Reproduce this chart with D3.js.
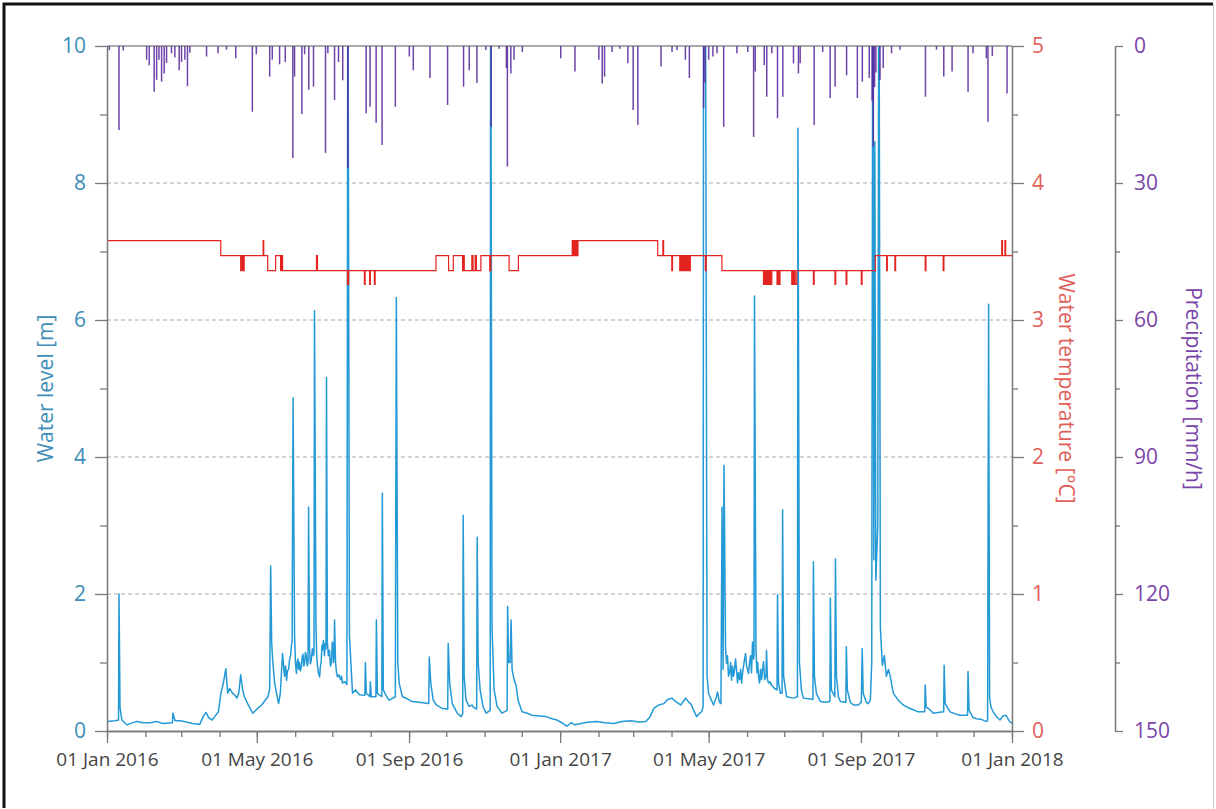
<!DOCTYPE html>
<html>
<head>
<meta charset="utf-8">
<script src="https://cdn.jsdelivr.net/npm/d3@7"></script>
<style>
  body { margin: 0; background: #fff; }
  svg { display: block; font-family: 'Open Sans', sans-serif; }
</style>
</head>
<body>
<svg id="chart" width="1216" height="809"></svg>
<script>
// all series are [day since 01 Jan 2016, value]

// water level [m] (values above 10 run off the top)
const levelSeries = [
  [0, 0.14], [6.4, 0.15], [9.3, 0.16], [9.7, 2.0], [10.5, 0.35], [12, 0.16], [16, 0.09], [24, 0.14],
  [29, 0.12], [35, 0.12], [40, 0.14], [45, 0.11], [52.8, 0.12], [53.2, 0.26], [55, 0.15], [59, 0.15],
  [64, 0.13], [69, 0.11], [75, 0.10], [78, 0.22], [80, 0.27], [82, 0.2], [85, 0.16], [87, 0.21],
  [90, 0.28], [92, 0.55], [94, 0.7], [96, 0.91], [97.5, 0.55], [99, 0.62], [101.5, 0.55], [103, 0.53],
  [105, 0.48], [106.4, 0.55], [108, 0.82], [109.6, 0.6], [111, 0.5], [113.6, 0.40], [117.7, 0.26],
  [120, 0.3], [121.7, 0.33], [125, 0.38], [127, 0.43], [130, 0.5], [131.4, 0.62], [132.2, 2.41],
  [133, 1.3], [133.8, 1.04], [135.4, 0.7], [137, 0.55], [138.6, 0.40], [140, 0.55], [141.8, 1.13],
  [143.4, 0.8], [144.2, 0.95], [145, 0.74], [145.8, 0.88], [146.7, 0.9], [147.5, 1.05], [148.3, 1.1],
  [149, 1.25], [149.5, 1.3], [150.3, 4.86], [151.5, 1.4], [152.2, 1.0], [153, 0.84], [153.6, 1.0],
  [154.2, 1.05], [154.8, 0.9], [155.5, 1.0], [156.2, 0.88], [157, 0.94], [157.7, 1.08], [158.3, 1.12],
  [159, 0.95], [159.6, 0.99], [160.3, 1.15], [161, 1.1], [161.7, 0.95], [162.4, 1.0], [162.8, 3.27],
  [163.6, 1.2], [164.3, 0.98], [165, 1.04], [165.9, 1.2], [166.8, 1.1], [167.2, 1.15], [167.6, 6.14],
  [168.8, 1.5], [169.4, 1.1], [170, 0.95], [170.8, 0.85], [171.7, 0.79], [172.4, 0.95], [173, 1.0],
  [173.6, 1.25], [174, 1.18], [174.8, 1.32], [175.7, 1.1], [176.3, 1.28], [176.9, 1.2], [177.3, 5.16],
  [178, 1.3], [178.8, 1.1], [179.7, 1.18], [180.5, 0.95], [181.3, 1.0], [182, 1.3], [182.5, 1.25],
  [183, 1.0], [183.4, 1.1], [183.8, 1.62], [184.6, 1.0], [185.4, 0.85], [186.2, 0.79], [187.4, 0.82],
  [188.6, 0.75], [189.4, 0.8], [190.2, 0.70], [192, 0.72], [193.8, 0.68], [194.6, 12], [195.8, 1.4],
  [198.3, 0.55], [200.7, 0.6], [203.9, 0.53], [208.3, 0.52], [208.7, 1.0], [209.5, 0.55], [212.3, 0.5],
  [212.7, 0.72], [213.5, 0.5], [217.2, 0.5], [217.6, 1.62], [218.4, 0.55], [222, 0.5], [222.4, 3.47],
  [223.2, 0.6], [226.5, 0.48], [228, 0.45], [232.9, 0.5], [233.7, 6.33], [234.9, 1.0], [236, 0.7],
  [238.6, 0.50], [242.6, 0.47], [246.6, 0.43], [252, 0.42], [259.9, 0.4], [260.3, 1.08], [261.5, 0.7],
  [263.5, 0.45], [266, 0.38], [270.8, 0.33], [275.2, 0.32], [275.6, 1.28], [276.8, 0.7], [278.9, 0.4],
  [282.9, 0.26], [286, 0.21], [287.3, 0.25], [287.7, 3.15], [288.5, 0.8], [290, 0.45], [292.5, 0.36],
  [295, 0.38], [295.8, 0.35], [298.6, 0.32], [299, 2.83], [299.8, 1.0], [301.4, 0.6], [303.8, 0.35],
  [306.3, 0.26], [309.5, 0.3], [309.9, 12], [311, 1.5], [312.7, 0.6], [315.1, 0.36], [319, 0.26],
  [323.2, 0.3], [323.6, 1.82], [324.4, 1.0], [325.6, 1.0], [326.4, 1.62], [327.2, 0.9], [328.8, 0.75],
  [330.4, 0.67], [332, 0.45], [335.3, 0.28], [339.3, 0.26], [343.3, 0.23], [349, 0.22], [354.6, 0.21],
  [359.4, 0.18], [363.5, 0.16], [367.5, 0.12], [371.5, 0.07], [374.8, 0.12], [378, 0.09], [382.8, 0.11],
  [389.3, 0.13], [395.7, 0.14], [402, 0.12], [409.4, 0.11], [415.9, 0.14], [423, 0.15], [429.6, 0.13],
  [435.2, 0.14], [438.4, 0.2], [441.7, 0.33], [445.7, 0.38], [449.8, 0.40], [453, 0.46], [456.2, 0.48],
  [459.4, 0.43], [463.4, 0.38], [467.4, 0.48], [469.9, 0.42], [471.5, 0.40], [473.9, 0.3], [476.3, 0.21],
  [478.7, 0.26], [480.3, 0.28], [481.5, 0.35], [481.9, 12], [483.3, 12], [484.7, 0.8],
  [485.9, 0.55], [487.5, 0.48], [489.9, 0.38], [492.3, 0.5], [493.1, 0.57], [494.7, 0.42], [495.9, 0.40],
  [496.8, 3.27], [497.6, 0.9], [498.4, 3.88], [499.6, 1.2], [500.4, 0.99], [501.2, 1.1], [502, 0.8],
  [502.9, 0.85], [503.7, 1.0], [504.5, 0.74], [505.3, 0.95], [506.1, 0.8], [506.9, 0.9], [507.7, 1.05],
  [508.5, 0.89], [509.3, 0.7], [510.1, 0.85], [511, 0.75], [511.8, 0.9], [512.6, 0.70], [513.4, 0.85],
  [514.2, 0.95], [515, 1.05], [515.8, 1.13], [516.6, 0.95], [517.4, 0.9], [518.2, 0.84], [519, 1.0],
  [519.8, 1.1], [520.6, 0.85], [521.4, 1.3], [522.2, 1.05], [522.6, 1.1], [523, 6.35], [524.2, 1.2],
  [525, 0.85], [525.6, 1.0], [526.3, 0.79], [527.1, 0.7], [527.9, 0.9], [528.7, 0.75], [529.5, 0.9],
  [530.3, 1.01], [531.2, 0.75], [532.3, 0.8], [532.7, 1.18], [533.5, 0.75], [534.4, 0.7], [535.6, 0.72],
  [536.7, 0.67], [539.2, 0.62], [541.2, 0.6], [541.6, 1.99], [542.4, 0.7], [544, 0.55], [545.3, 0.55],
  [545.7, 3.23], [546.5, 0.8], [548.9, 0.50], [554.5, 0.48], [557.7, 0.5], [558.1, 8.8], [559.3, 1.0],
  [560.9, 0.6], [562.5, 0.48], [566.6, 0.47], [570.2, 0.46], [570.6, 2.47], [571.4, 0.8], [573, 0.55],
  [576.2, 0.43], [580.3, 0.42], [583.9, 0.43], [584.3, 1.94], [585.1, 0.6], [587.9, 0.5], [588.4, 2.51],
  [589.2, 0.8], [590.8, 0.5], [592.4, 0.43], [596.8, 0.42], [597.2, 1.23], [598, 0.6], [600.4, 0.42],
  [602.9, 0.38], [606.9, 0.38], [609.3, 0.42], [610, 1.2], [610.8, 0.55], [613.3, 0.42], [614.9, 0.40],
  [616.6, 0.45], [617.7, 1.0], [618.6, 12], [619.4, 2.5], [620.2, 8.6], [621, 2.2], [622.6, 3.0],
  [623.5, 12], [624.7, 1.5], [626.3, 0.96], [627.9, 1.1], [629.5, 0.8], [631.2, 0.9], [632.8, 0.79],
  [633.6, 0.7], [635.2, 0.55], [639.1, 0.45], [643.2, 0.38], [647.2, 0.34], [651.2, 0.31], [655.2, 0.28],
  [660.5, 0.28], [660.9, 0.67], [661.7, 0.35], [664.1, 0.32], [667.3, 0.26], [671.3, 0.27], [675.8, 0.28],
  [676.2, 0.96], [677, 0.4], [681, 0.28], [685, 0.25], [689, 0.23], [695.1, 0.23], [695.5, 0.87],
  [696.3, 0.3], [699.5, 0.2], [701.9, 0.18], [706, 0.17], [710, 0.14], [711.3, 0.15], [712.1, 6.23],
  [712.9, 0.5], [714, 0.35], [715.7, 0.28], [718.9, 0.2], [721.3, 0.16], [723.7, 0.22], [726.2, 0.23],
  [728.6, 0.15], [731, 0.11]
];

// precipitation [mm/h]
const precipSeries = [
  [1.9, 0.9], [9.7, 18.4], [13.1, 1.0], [32, 3], [34.1, 4.2], [38.1, 10], [40.1, 7.4], [42, 3],
  [44.1, 7.8], [46.2, 6], [48.1, 3.7], [52.1, 1.6], [54.8, 2.5], [58.3, 5.3], [60.2, 3.5], [62.9, 3],
  [65, 8.8], [66.9, 1.5], [80.4, 2.3], [89.7, 1.6], [96.5, 0.8], [104, 2.7], [117.4, 14.4], [120.6, 1.8],
  [131.4, 6.7], [133.5, 3], [139.4, 4], [144, 3.5], [150.1, 24.5], [151.5, 6.7], [157.4, 14.9],
  [159.6, 1.8], [163, 9.6], [166.8, 8.9], [176.5, 23.4], [178.4, 1.6], [183.8, 11.8], [187, 3.5],
  [190.4, 7.5], [194.5, 26.7], [209.3, 14.7], [212.5, 13.3], [217.4, 16.8], [222.2, 21.7], [232.9, 13.3],
  [244.2, 2.3], [247.4, 5.3], [260.9, 7], [275.1, 12.9], [288, 8.9], [292.6, 5.3], [298.8, 8.1],
  [306, 0.9], [310.3, 17.7], [316.7, 0.6], [322.6, 4.8], [323.4, 26.4], [326.2, 6], [328.8, 3],
  [335.5, 1.3], [366.5, 2.7], [378, 5.6], [397.3, 3], [400, 8.2], [401.9, 6.7], [408, 1.3], [414.2, 0.6],
  [420.7, 3.8], [425, 14], [428.8, 17.3], [447.5, 4.5], [456.4, 1.3], [460.4, 0.9], [467.2, 3],
  [470.4, 7], [481.9, 13.6], [483, 8], [486, 3], [489.4, 2.3], [492.7, 1.6], [498.1, 17.7], [508.8, 1.6],
  [517.6, 1.3], [522.3, 19.9], [523.6, 5.6], [530.9, 4.2], [532.9, 11.1], [537, 1.6], [541.6, 15.8],
  [545.9, 11.1], [554.5, 3.8], [558.5, 6], [559.9, 3.8], [571.2, 17.3], [578.1, 1.3], [584.1, 11.4],
  [588.1, 8.9], [597.4, 6.4], [606.1, 11.4], [610.1, 7.8], [615.7, 7], [618, 12], [619, 22], [620, 9],
  [621.1, 5.8], [624.4, 7.4], [627, 4.8], [633.7, 1.6], [640.5, 0.8], [661.1, 11.1], [670, 0.8],
  [675.9, 6.7], [682.6, 5.6], [695.5, 10], [699.5, 1.6], [710.3, 2.7], [711.6, 16.6], [715.1, 2.2],
  [727, 10.4]
];

// water temperature [°C], level changes (step after)
const tempSteps = [
  [0, 3.58], [91.9, 3.47], [108, 3.36], [108.8, 3.47], [109.3, 3.36], [109.8, 3.47], [110.3, 3.36],
  [110.8, 3.47], [126.1, 3.58], [126.6, 3.47], [129.8, 3.36], [136.2, 3.47], [140.2, 3.36], [141, 3.47],
  [141.8, 3.36], [169.2, 3.47], [170, 3.36], [194.2, 3.26], [195.2, 3.36], [207.9, 3.26], [208.5, 3.36],
  [212.1, 3.26], [212.7, 3.36], [216, 3.26], [216.6, 3.36], [265.7, 3.47], [275.9, 3.36], [279.7, 3.47],
  [287.2, 3.36], [288, 3.47], [288.6, 3.36], [294.7, 3.47], [295.7, 3.36], [297.4, 3.47], [298.4, 3.36],
  [302, 3.47], [309.2, 3.36], [310, 3.47], [324.8, 3.36], [332.3, 3.47], [375.8, 3.58], [376.5, 3.47],
  [377.2, 3.58], [378, 3.47], [378.8, 3.58], [379.6, 3.47], [380.4, 3.58], [444.8, 3.47], [449, 3.58],
  [449.6, 3.47], [456.2, 3.36], [456.8, 3.47], [462.6, 3.36], [463.4, 3.47], [464.2, 3.36], [465, 3.47],
  [465.8, 3.36], [466.6, 3.47], [467.4, 3.36], [468.2, 3.47], [469, 3.36], [469.8, 3.47], [470.6, 3.36],
  [471.2, 3.47], [483.3, 3.36], [484, 3.47], [496.7, 3.36], [530.3, 3.26], [531, 3.36], [531.7, 3.26],
  [532.4, 3.36], [533.1, 3.26], [533.8, 3.36], [534.5, 3.26], [535.2, 3.36], [536, 3.26], [537, 3.36],
  [541.2, 3.26], [542, 3.36], [543, 3.26], [543.6, 3.36], [553.1, 3.26], [553.8, 3.36], [554.5, 3.26],
  [555.2, 3.36], [555.9, 3.26], [557.2, 3.36], [570.6, 3.26], [571.2, 3.36], [588, 3.26], [588.6, 3.36],
  [597, 3.26], [597.6, 3.36], [609.3, 3.26], [609.9, 3.36], [620.6, 3.47], [629.7, 3.36], [630.3, 3.47],
  [636.4, 3.36], [637, 3.47], [660.9, 3.36], [661.5, 3.47], [675.4, 3.36], [676, 3.47], [722.7, 3.58],
  [723.3, 3.47], [725.3, 3.58], [725.9, 3.47], [731, 3.47]
];

const levelTicks = [0, 2, 4, 6, 8, 10];
const tempTicks = [0, 1, 2, 3, 4, 5];
const precipTicks = [0, 30, 60, 90, 120, 150];

const colors = {
  level: '#2399d6',
  levelText: '#3d8db8',
  temp: '#e3231f',
  tempText: '#e0605a',
  precip: '#55249c',
  precipText: '#7a45a8',
  axis: '#7a7a7a',
  grid: '#a8a8a8'
};

const margin = { top: 46, right: 202, bottom: 78, left: 107 };
const width = 1216, height = 809;
const startMs = Date.UTC(2016, 0, 1);
const dayToDate = d => new Date(startMs + d * 864e5);

const svg = d3.select('#chart');

// frame around the whole figure
svg.append('path')
  .attr('d', 'M4,808 L4,4 L1213,4')
  .attr('fill', 'none')
  .attr('stroke', '#111')
  .attr('stroke-width', 3);
svg.append('line')
  .attr('x1', 1213.5).attr('x2', 1213.5).attr('y1', 4).attr('y2', 809)
  .attr('stroke', '#ccc');

const x = d3.scaleUtc()
  .domain([dayToDate(0), dayToDate(731)])
  .range([margin.left, width - margin.right - 2]);
const yLevel = d3.scaleLinear().domain([0, 10]).range([height - margin.bottom, margin.top]);
const yTemp = d3.scaleLinear().domain([0, 5]).range(yLevel.range());
const yPrecip = d3.scaleLinear().domain([0, 150]).range([margin.top, yLevel(0)]);

const x0 = x.range()[0], x1 = x.range()[1];
const yBottom = yLevel(0), yTop = yLevel(10);

svg.append('defs').append('clipPath').attr('id', 'plot-clip')
  .append('rect')
  .attr('x', x0).attr('y', yTop)
  .attr('width', x1 - x0).attr('height', yBottom - yTop);

// Grid
svg.append('g')
  .selectAll('line')
  .data([2, 4, 6, 8])
  .join('line')
  .attr('x1', x0).attr('x2', x1)
  .attr('y1', d => yLevel(d)).attr('y2', d => yLevel(d))
  .attr('stroke', colors.grid)
  .attr('stroke-width', 1)
  .attr('stroke-dasharray', '4,3');

const plot = svg.append('g').attr('clip-path', 'url(#plot-clip)');

// Water level
plot.append('path')
  .datum(levelSeries)
  .attr('fill', 'none')
  .attr('stroke', colors.level)
  .attr('stroke-width', 1.5)
  .attr('stroke-linejoin', 'round')
  .attr('d', d3.line()
    .x(d => x(dayToDate(d[0])))
    .y(d => yLevel(d[1])));

// Precipitation, hanging from the top
plot.append('g')
  .selectAll('line')
  .data(precipSeries)
  .join('line')
  .attr('x1', d => x(dayToDate(d[0])))
  .attr('x2', d => x(dayToDate(d[0])))
  .attr('y1', yPrecip(0))
  .attr('y2', d => yPrecip(d[1]))
  .attr('stroke', colors.precip)
  .attr('stroke-width', 1.5)
  .attr('opacity', 0.85);

// Water temperature
plot.append('path')
  .datum(tempSteps)
  .attr('fill', 'none')
  .attr('stroke', colors.temp)
  .attr('stroke-width', 1.2)
  .attr('d', d3.line()
    .curve(d3.curveStepAfter)
    .x(d => x(dayToDate(d[0])))
    .y(d => yTemp(d[1])));

// top border of plot
svg.append('line')
  .attr('x1', x0).attr('x2', x1)
  .attr('y1', yTop).attr('y2', yTop)
  .attr('stroke', '#555')
  .attr('stroke-width', 1.2);

function styleAxis(g, textColor, fontSize) {
  g.select('.domain').attr('stroke', colors.axis).attr('stroke-width', 1.3);
  g.selectAll('.tick line').attr('stroke', colors.axis).attr('stroke-width', 1.3);
  g.selectAll('.tick text')
    .attr('fill', textColor)
    .style('font-size', fontSize + 'px')
    .style('font-family', "'Open Sans', sans-serif");
}

const plain = d3.format('d');

// Left axis: water level
const levelAxis = svg.append('g')
  .attr('transform', `translate(${x0},0)`)
  .call(d3.axisLeft(yLevel).tickValues(levelTicks).tickSize(12).tickSizeOuter(0)
    .tickPadding(9).tickFormat(plain));
styleAxis(levelAxis, colors.levelText, 21);
const levelMinor = svg.append('g')
  .attr('transform', `translate(${x0},0)`)
  .call(d3.axisLeft(yLevel).tickValues([1, 3, 5, 7, 9]).tickSize(7).tickSizeOuter(0).tickFormat(''));
styleAxis(levelMinor, colors.levelText, 21);

// Bottom axis: dates
const majorDates = [0, 4, 8, 12, 16, 20, 24].map(m => new Date(Date.UTC(2016, m, 1)));
const allMonths = d3.utcMonth.range(dayToDate(0), dayToDate(732));
const xAxis = svg.append('g')
  .attr('transform', `translate(0,${yBottom})`)
  .call(d3.axisBottom(x).tickValues(majorDates).tickSize(12).tickSizeOuter(0)
    .tickPadding(10).tickFormat(d3.utcFormat('%d %b %Y')));
styleAxis(xAxis, '#454545', 19);
const xMinor = svg.append('g')
  .attr('transform', `translate(0,${yBottom})`)
  .call(d3.axisBottom(x).tickValues(allMonths).tickSize(6).tickSizeOuter(0).tickFormat(''));
styleAxis(xMinor, '#454545', 19);

// Right axis: water temperature
const tempAxis = svg.append('g')
  .attr('transform', `translate(${x1},0)`)
  .call(d3.axisRight(yTemp).tickValues(tempTicks).tickSize(12).tickSizeOuter(0)
    .tickPadding(8).tickFormat(plain));
styleAxis(tempAxis, colors.tempText, 21);
const tempMinor = svg.append('g')
  .attr('transform', `translate(${x1},0)`)
  .call(d3.axisRight(yTemp).tickValues([0.5, 1.5, 2.5, 3.5, 4.5]).tickSize(6).tickSizeOuter(0).tickFormat(''));
styleAxis(tempMinor, colors.tempText, 21);

// Far right axis: precipitation
const precipX = 1115;
const precipAxis = svg.append('g')
  .attr('transform', `translate(${precipX},0)`)
  .call(d3.axisRight(yPrecip).tickValues(precipTicks).tickSize(8).tickSizeOuter(0)
    .tickPadding(11).tickFormat(plain));
styleAxis(precipAxis, colors.precipText, 21);
const precipMinor = svg.append('g')
  .attr('transform', `translate(${precipX},0)`)
  .call(d3.axisRight(yPrecip).tickValues([15, 45, 75, 105, 135]).tickSize(5).tickSizeOuter(0).tickFormat(''));
styleAxis(precipMinor, colors.precipText, 21);

// Axis titles
const midY = (yTop + yBottom) / 2;
svg.append('text')
  .attr('transform', `translate(46,${midY}) rotate(-90)`)
  .attr('text-anchor', 'middle')
  .attr('dy', '0.35em')
  .attr('fill', colors.levelText)
  .style('font-size', '21px')
  .text('Water level [m]');

svg.append('text')
  .attr('transform', `translate(1066,${midY}) rotate(90)`)
  .attr('text-anchor', 'middle')
  .attr('dy', '0.35em')
  .attr('fill', colors.tempText)
  .style('font-size', '21px')
  .text('Water temperature [°C]');

svg.append('text')
  .attr('transform', `translate(1193,${midY}) rotate(90)`)
  .attr('text-anchor', 'middle')
  .attr('dy', '0.35em')
  .attr('fill', colors.precipText)
  .style('font-size', '21px')
  .text('Precipitation [mm/h]');
</script>
</body>
</html>
